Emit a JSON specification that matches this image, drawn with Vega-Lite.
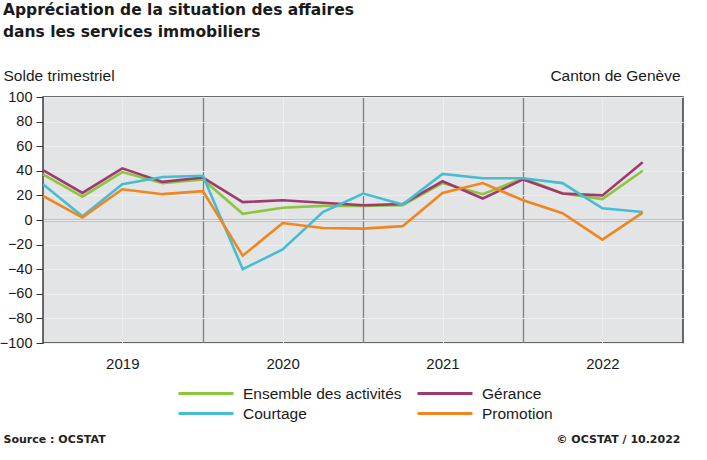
{
  "$schema": "https://vega.github.io/schema/vega-lite/v6.json",
  "width": 640,
  "height": 246,
  "autosize": {"type": "none"},
  "padding": {"left": 43, "top": 97, "right": 24, "bottom": 117},
  "background": "white",
  "config": {
    "font": "Liberation Sans",
    "view": {"fill": "#e3e4e6", "stroke": "#3a3a3a", "strokeWidth": 1.5}
  },
  "title": {
    "text": ["Appréciation de la situation des affaires", "dans les services immobiliers"],
    "anchor": "start",
    "frame": "group",
    "dx": -40,
    "offset": 28,
    "font": "DejaVu Sans",
    "fontSize": 15.5,
    "fontWeight": "bold",
    "color": "#1a1a1a",
    "lineHeight": 22
  },
  "data": {
    "values": [
      {"date": "2019-01-01", "serie": "Ensemble des activités", "value": 37},
      {"date": "2019-04-01", "serie": "Ensemble des activités", "value": 19},
      {"date": "2019-07-01", "serie": "Ensemble des activités", "value": 39},
      {"date": "2019-10-01", "serie": "Ensemble des activités", "value": 30},
      {"date": "2020-01-01", "serie": "Ensemble des activités", "value": 33},
      {"date": "2020-04-01", "serie": "Ensemble des activités", "value": 5},
      {"date": "2020-07-01", "serie": "Ensemble des activités", "value": 10},
      {"date": "2020-10-01", "serie": "Ensemble des activités", "value": 11.5},
      {"date": "2021-01-01", "serie": "Ensemble des activités", "value": 11.5},
      {"date": "2021-04-01", "serie": "Ensemble des activités", "value": 12},
      {"date": "2021-07-01", "serie": "Ensemble des activités", "value": 30},
      {"date": "2021-10-01", "serie": "Ensemble des activités", "value": 21},
      {"date": "2022-01-01", "serie": "Ensemble des activités", "value": 34},
      {"date": "2022-04-01", "serie": "Ensemble des activités", "value": 21.5},
      {"date": "2022-07-01", "serie": "Ensemble des activités", "value": 17},
      {"date": "2022-10-01", "serie": "Ensemble des activités", "value": 40},
      {"date": "2019-01-01", "serie": "Gérance", "value": 40.5},
      {"date": "2019-04-01", "serie": "Gérance", "value": 22},
      {"date": "2019-07-01", "serie": "Gérance", "value": 42},
      {"date": "2019-10-01", "serie": "Gérance", "value": 31},
      {"date": "2020-01-01", "serie": "Gérance", "value": 34.5},
      {"date": "2020-04-01", "serie": "Gérance", "value": 14.5},
      {"date": "2020-07-01", "serie": "Gérance", "value": 16},
      {"date": "2020-10-01", "serie": "Gérance", "value": 14},
      {"date": "2021-01-01", "serie": "Gérance", "value": 12},
      {"date": "2021-04-01", "serie": "Gérance", "value": 13},
      {"date": "2021-07-01", "serie": "Gérance", "value": 31.5},
      {"date": "2021-10-01", "serie": "Gérance", "value": 17.5},
      {"date": "2022-01-01", "serie": "Gérance", "value": 33},
      {"date": "2022-04-01", "serie": "Gérance", "value": 21.5},
      {"date": "2022-07-01", "serie": "Gérance", "value": 20},
      {"date": "2022-10-01", "serie": "Gérance", "value": 47},
      {"date": "2019-01-01", "serie": "Courtage", "value": 29},
      {"date": "2019-04-01", "serie": "Courtage", "value": 3},
      {"date": "2019-07-01", "serie": "Courtage", "value": 29},
      {"date": "2019-10-01", "serie": "Courtage", "value": 35},
      {"date": "2020-01-01", "serie": "Courtage", "value": 36},
      {"date": "2020-04-01", "serie": "Courtage", "value": -40},
      {"date": "2020-07-01", "serie": "Courtage", "value": -24},
      {"date": "2020-10-01", "serie": "Courtage", "value": 6.5},
      {"date": "2021-01-01", "serie": "Courtage", "value": 21.5},
      {"date": "2021-04-01", "serie": "Courtage", "value": 12.5},
      {"date": "2021-07-01", "serie": "Courtage", "value": 37.5},
      {"date": "2021-10-01", "serie": "Courtage", "value": 34},
      {"date": "2022-01-01", "serie": "Courtage", "value": 34},
      {"date": "2022-04-01", "serie": "Courtage", "value": 30},
      {"date": "2022-07-01", "serie": "Courtage", "value": 9.5},
      {"date": "2022-10-01", "serie": "Courtage", "value": 6.5},
      {"date": "2019-01-01", "serie": "Promotion", "value": 19.5},
      {"date": "2019-04-01", "serie": "Promotion", "value": 2},
      {"date": "2019-07-01", "serie": "Promotion", "value": 25},
      {"date": "2019-10-01", "serie": "Promotion", "value": 21},
      {"date": "2020-01-01", "serie": "Promotion", "value": 23.5},
      {"date": "2020-04-01", "serie": "Promotion", "value": -29},
      {"date": "2020-07-01", "serie": "Promotion", "value": -2.5},
      {"date": "2020-10-01", "serie": "Promotion", "value": -6.5},
      {"date": "2021-01-01", "serie": "Promotion", "value": -7},
      {"date": "2021-04-01", "serie": "Promotion", "value": -5},
      {"date": "2021-07-01", "serie": "Promotion", "value": 22},
      {"date": "2021-10-01", "serie": "Promotion", "value": 30},
      {"date": "2022-01-01", "serie": "Promotion", "value": 16},
      {"date": "2022-04-01", "serie": "Promotion", "value": 5.5},
      {"date": "2022-07-01", "serie": "Promotion", "value": -16},
      {"date": "2022-10-01", "serie": "Promotion", "value": 6}
    ]
  },
  "layer": [
    {
      "mark": {"type": "point", "opacity": 0},
      "encoding": {
        "x": {
          "field": "date",
          "type": "temporal",
          "scale": {"type": "utc", "domain": [{"year": 2019, "month": 1, "date": 1, "utc": true}, {"year": 2023, "month": 1, "date": 1, "utc": true}]},
          "axis": {
            "orient": "top",
            "values": [{"year": 2020, "month": 1, "date": 1, "utc": true}, {"year": 2021, "month": 1, "date": 1, "utc": true}, {"year": 2022, "month": 1, "date": 1, "utc": true}],
            "grid": true,
            "gridColor": "#7d7d7d",
            "gridWidth": 1.3,
            "labels": false,
            "ticks": false,
            "tickSize": 0,
            "domain": false,
            "title": "© OCSTAT / 10.2022",
            "titleFont": "DejaVu Sans",
            "titleFontSize": 11,
            "titleFontWeight": "bold",
            "titleColor": "#222222",
            "titleAngle": 0,
            "titleAlign": "right",
            "titleBaseline": "alphabetic",
            "titleAnchor": "start",
            "titleX": 637,
            "titleY": 345
          }
        },
        "y": {
          "field": "value",
          "type": "quantitative",
          "scale": {"domain": [-100, 100], "nice": false, "zero": false},
          "axis": {
            "orient": "right",
            "values": [0],
            "grid": true,
            "gridColor": "#9a9a9a",
            "gridWidth": 2,
            "labels": false,
            "ticks": false,
            "tickSize": 0,
            "domain": false,
            "title": "Canton de Genève",
            "titleFont": "Liberation Sans",
            "titleFontSize": 15.5,
            "titleFontWeight": "normal",
            "titleColor": "#1a1a1a",
            "titleAngle": 0,
            "titleAlign": "right",
            "titleBaseline": "alphabetic",
            "titleX": -3,
            "titleY": -17
          }
        }
      }
    },
    {
      "mark": {"type": "line", "strokeWidth": 2.6},
      "encoding": {
        "x": {
          "field": "date",
          "type": "temporal",
          "axis": {
            "orient": "bottom",
            "values": [{"year": 2019, "month": 7, "date": 1, "utc": true}, {"year": 2020, "month": 7, "date": 1, "utc": true}, {"year": 2021, "month": 7, "date": 1, "utc": true}, {"year": 2022, "month": 7, "date": 1, "utc": true}],
            "labelExpr": "utcyear(datum.value)",
            "grid": true,
            "gridColor": "#efeff0",
            "gridWidth": 1,
            "ticks": false,
            "tickSize": 0,
            "domain": false,
            "labelFontSize": 15,
            "labelColor": "#1a1a1a",
            "labelPadding": 13,
            "title": "Source : OCSTAT",
            "titleFont": "DejaVu Sans",
            "titleFontSize": 11,
            "titleFontWeight": "bold",
            "titleColor": "#222222",
            "titleAlign": "left",
            "titleAnchor": "start",
            "titleBaseline": "alphabetic",
            "titleX": -40,
            "titleY": 99
          }
        },
        "y": {
          "field": "value",
          "type": "quantitative",
          "axis": {
            "orient": "left",
            "values": [-100, -80, -60, -40, -20, 0, 20, 40, 60, 80, 100],
            "grid": true,
            "gridColor": "#efeff0",
            "gridWidth": 1,
            "domain": false,
            "ticks": true,
            "tickSize": 7,
            "tickColor": "#333333",
            "labelFontSize": 14.5,
            "labelColor": "#1a1a1a",
            "labelPadding": 4,
            "title": "Solde trimestriel",
            "titleFontSize": 15.5,
            "titleFontWeight": "normal",
            "titleColor": "#1a1a1a",
            "titleAngle": 0,
            "titleAlign": "left",
            "titleBaseline": "alphabetic",
            "titleX": -40,
            "titleY": -17
          }
        },
        "color": {
          "field": "serie",
          "type": "nominal",
          "scale": {
            "domain": ["Ensemble des activités", "Gérance", "Courtage", "Promotion"],
            "range": ["#8cc63e", "#a03a6e", "#46bdd2", "#f0861f"]
          },
          "legend": {
            "orient": "none",
            "legendX": 152.5,
            "legendY": 286,
            "title": null,
            "columns": 2,
            "direction": "horizontal",
            "symbolType": "M-3.05,0H3.05",
            "symbolSize": 324,
            "symbolStrokeWidth": 3,
            "symbolFillColor": "transparent",
            "labelOffset": 26.5,
            "labelFontSize": 15.5,
            "labelColor": "#1a1a1a",
            "labelLimit": 300,
            "columnPadding": 9,
            "rowPadding": 1
          }
        }
      }
    }
  ],
  "resolve": {"axis": {"x": "independent", "y": "independent"}}
}
